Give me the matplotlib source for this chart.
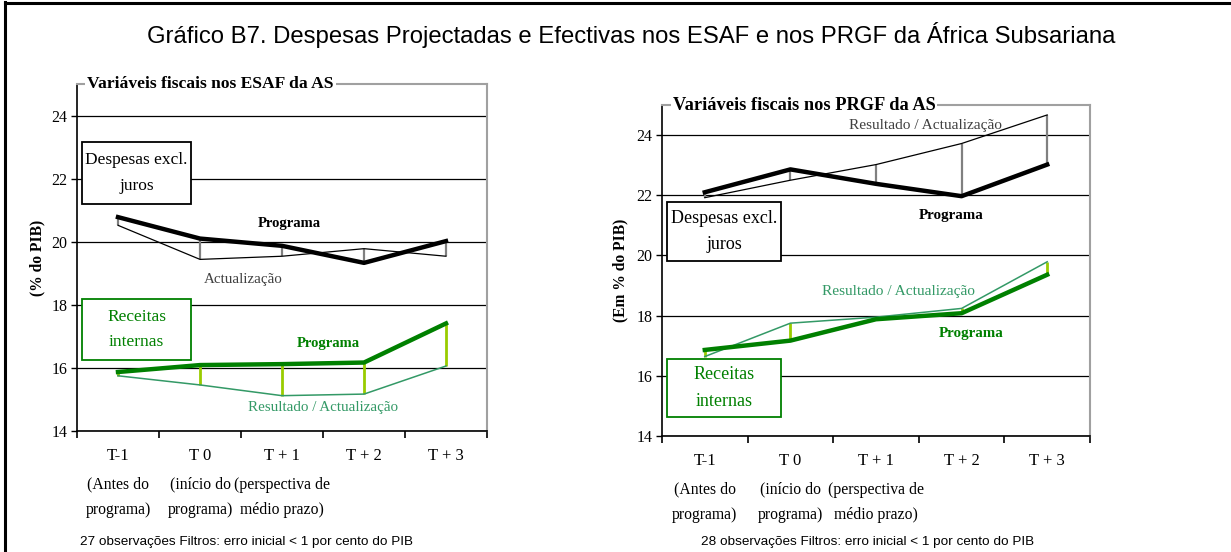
import matplotlib.pyplot as plt
from matplotlib.patches import Rectangle

plt.rcParams['font.family'] = ['Liberation Serif', 'DejaVu Serif']

periods = ['T-1', 'T 0', 'T + 1', 'T + 2', 'T + 3']
period_notes = ['(Antes do\nprograma)', '(início do\nprograma)', '(perspectiva de\nmédio prazo)', '', '']

# ESAF: programme vs. update (% of GDP)
esaf_desp_prog = [20.78, 20.10, 19.87, 19.33, 20.02]
esaf_desp_act = [20.52, 19.44, 19.54, 19.78, 19.54]
esaf_rec_prog = [15.87, 16.09, 16.12, 16.17, 17.41]
esaf_rec_act = [15.75, 15.46, 15.12, 15.17, 16.06]

# PRGF: programme vs. outcome/update (% of GDP)
prgf_desp_prog = [22.10, 22.86, 22.38, 21.97, 23.02]
prgf_desp_act = [21.92, 22.50, 23.02, 23.72, 24.67]
prgf_rec_prog = [16.86, 17.17, 17.88, 18.08, 19.36]
prgf_rec_act = [16.64, 17.75, 17.95, 18.24, 19.79]

GREEN = '#008000'
TEAL = '#339966'
LIME = '#99CC00'
GREY = '#808080'
SANS = ['Liberation Sans', 'DejaVu Sans']

W, H = 1231, 552
fig = plt.figure(figsize=(W / 100, H / 100), dpi=100)


def px(x, y):
    # pixel position (from top-left) -> figure fraction
    return x / W, 1 - y / H


def label(x, y, s, **kw):
    fx, fy = px(x, y)
    fig.text(fx, fy, s, ha='center', va='center', **kw)


def box(x0, y0, x1, y1, s, color, size):
    fx0, fy1 = px(x0, y1)
    fig.add_artist(Rectangle((fx0, fy1), (x1 - x0) / W, (y1 - y0) / H,
                             transform=fig.transFigure, facecolor='white',
                             edgecolor=color, lw=1.3, zorder=5))
    fx, fy = px((x0 + x1) / 2, (y0 + y1) / 2)
    fig.text(fx, fy, s, ha='center', va='center', color=color, fontsize=size,
             linespacing=1.75, zorder=6)


# frame around the figure (top and left edges)
fig.add_artist(plt.Line2D([5 / W, 5 / W], [0, 1 - 2 / H], color='black', lw=2.2,
                          transform=fig.transFigure))
fig.add_artist(plt.Line2D([5 / W, 1], [1 - 3 / H, 1 - 3 / H], color='black', lw=2.2,
                          transform=fig.transFigure))

label(631, 35, 'Gráfico B7. Despesas Projectadas e Efectivas nos ESAF e nos PRGF da África Subsariana',
      fontsize=17.2, family=SANS)


def panel(l, t, r, b, desp_prog, desp_act, rec_prog, rec_act, title, title_size, ylabel, ylab_x):
    fl, fb = px(l, b)
    ax = fig.add_axes([fl, fb, (r - l) / W, (b - t) / H])
    x = list(range(len(periods)))
    ax.set_xlim(-0.5, 4.5)
    ax.set_ylim(14, 25)
    ax.set_yticks([14, 16, 18, 20, 22, 24])
    ax.yaxis.grid(True, color='black', lw=0.9)
    ax.set_axisbelow(True)
    for s in ['top', 'right']:
        ax.spines[s].set_color('#A0A0A0')
        ax.spines[s].set_linewidth(1.5)
    for s in ['left', 'bottom']:
        ax.spines[s].set_linewidth(1.2)
    ax.tick_params(axis='y', length=4, width=1, direction='out', labelsize=11.5, pad=3)
    ax.set_xticks([i - 0.5 for i in range(6)])
    ax.set_xticklabels([])
    ax.tick_params(axis='x', which='major', length=5, width=1.2, direction='out')
    ax.set_xticks(x, minor=True)
    ax.set_xticklabels(periods, minor=True)
    ax.tick_params(axis='x', which='minor', length=0, labelsize=12, pad=12)
    for i, note in enumerate(period_notes):
        ax.annotate(note, xy=(i, 0), xycoords=('data', 'axes fraction'),
                    xytext=(0, -33), textcoords='offset points',
                    ha='center', va='top', fontsize=11.3, linespacing=1.75)

    # spending
    ax.vlines(x, desp_prog, desp_act, color=GREY, lw=1.6, zorder=3)
    ax.plot(x, desp_act, color='black', lw=0.9, zorder=4)
    ax.plot(x, desp_prog, color='black', lw=3.2, zorder=5)
    # revenue
    ax.vlines(x, rec_prog, rec_act, color=LIME, lw=2, zorder=3)
    ax.plot(x, rec_act, color=TEAL, lw=1.1, zorder=4)
    ax.plot(x, rec_prog, color=GREEN, lw=3.2, zorder=5)

    ax.text(0.025, 1.0, title, transform=ax.transAxes, ha='left', va='center',
            fontsize=title_size, fontweight='bold',
            bbox=dict(facecolor='white', edgecolor='none', pad=1.5), zorder=10)
    label(ylab_x, (t + b) / 2, ylabel, rotation=90, fontsize=11.2, fontweight='bold')
    return ax


# left panel: ESAF
panel(77, 84, 487, 431, esaf_desp_prog, esaf_desp_act, esaf_rec_prog, esaf_rec_act,
      'Variáveis fiscais nos ESAF da AS', 12.6, '(% do PIB)', 37)
box(82, 142, 191, 204, 'Despesas excl.\njuros', 'black', 12.5)
box(82, 299, 191, 360, 'Receitas\ninternas', GREEN, 12.5)
label(289, 223, 'Programa', fontsize=10.5, fontweight='bold')
label(243, 279, 'Actualização', fontsize=10.8, color='#404040')
label(328, 343, 'Programa', fontsize=10.5, fontweight='bold', color=GREEN)
label(323, 408, 'Resultado / Actualização', fontsize=10.8, color=TEAL)
fx, fy = px(80, 542)
fig.text(fx, fy, '27 observações Filtros: erro inicial < 1 por cento do PIB',
         ha='left', va='center', fontsize=9.7, family=SANS)

# right panel: PRGF
panel(662, 105, 1090, 436, prgf_desp_prog, prgf_desp_act, prgf_rec_prog, prgf_rec_act,
      'Variáveis fiscais nos PRGF da AS', 13.2, '(Em % do PIB)', 620)
box(667, 202, 781, 261, 'Despesas excl.\njuros', 'black', 13)
box(667, 359, 781, 417, 'Receitas\ninternas', GREEN, 13)
label(926, 125, 'Resultado / Actualização', fontsize=11.1, color='#404040', zorder=9)
label(951, 215, 'Programa', fontsize=10.8, fontweight='bold')
label(898, 292, 'Resultado / Actualização', fontsize=11.1, color=TEAL)
label(971, 334, 'Programa', fontsize=10.8, fontweight='bold', color=GREEN)
label(868, 542, '28 observações Filtros: erro inicial < 1 por cento do PIB',
      fontsize=9.7, family=SANS)

fig.savefig('out.png', dpi=100)
